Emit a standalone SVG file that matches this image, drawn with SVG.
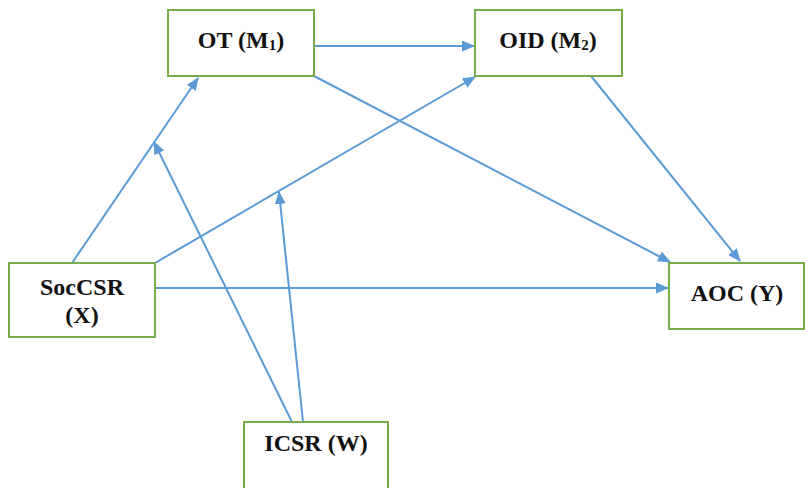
<svg xmlns="http://www.w3.org/2000/svg" width="805" height="488" viewBox="0 0 805 488">
<defs>
<marker id="ah" markerWidth="13" markerHeight="11" refX="12" refY="5.5" orient="auto" markerUnits="userSpaceOnUse">
<path d="M0,0 L13,5.5 L0,11 Z" fill="#5b9bd5"/>
</marker>
<style>
.box{fill:#fff;stroke:#77ac4c;stroke-width:2}
.lbl{font-family:"Liberation Serif","Times New Roman",serif;font-weight:bold;font-size:24px;fill:#111;text-anchor:middle}
.sub{font-size:15px}
.c{stroke:#5b9bd5;stroke-width:2;fill:none;marker-end:url(#ah)}
</style>
</defs>
<rect width="805" height="488" fill="#fff"/>
<g id="connectors">
<line class="c" x1="314" y1="46" x2="474" y2="46"/>
<line class="c" x1="72" y1="263" x2="198" y2="78"/>
<line class="c" x1="155" y1="263" x2="475" y2="77"/>
<line class="c" x1="314" y1="76" x2="670" y2="262"/>
<line class="c" x1="591" y1="76" x2="740" y2="261"/>
<line class="c" x1="155" y1="288" x2="668" y2="288"/>
<line class="c" x1="292" y1="422" x2="154" y2="142"/>
<line class="c" x1="303" y1="422" x2="279" y2="192"/>
</g>
<g id="OT">
<rect class="box" x="168" y="10" width="146" height="66"/>
<text class="lbl" x="241" y="48">OT (M<tspan class="sub" dy="2">1</tspan><tspan dy="-2">)</tspan></text>
</g>
<g id="OID">
<rect class="box" x="475" y="10" width="147" height="66"/>
<text class="lbl" x="548" y="48">OID (M<tspan class="sub" dy="2">2</tspan><tspan dy="-2">)</tspan></text>
</g>
<g id="SocCSR">
<rect class="box" x="9" y="263" width="146" height="74"/>
<text class="lbl" x="82" y="295">SocCSR</text>
<text class="lbl" x="82" y="323">(X)</text>
</g>
<g id="AOC">
<rect class="box" x="669" y="263" width="135" height="66"/>
<text class="lbl" x="737" y="301">AOC (Y)</text>
</g>
<g id="ICSR">
<rect class="box" x="244" y="422" width="144" height="70"/>
<text class="lbl" x="316" y="451">ICSR (W)</text>
</g>
</svg>
